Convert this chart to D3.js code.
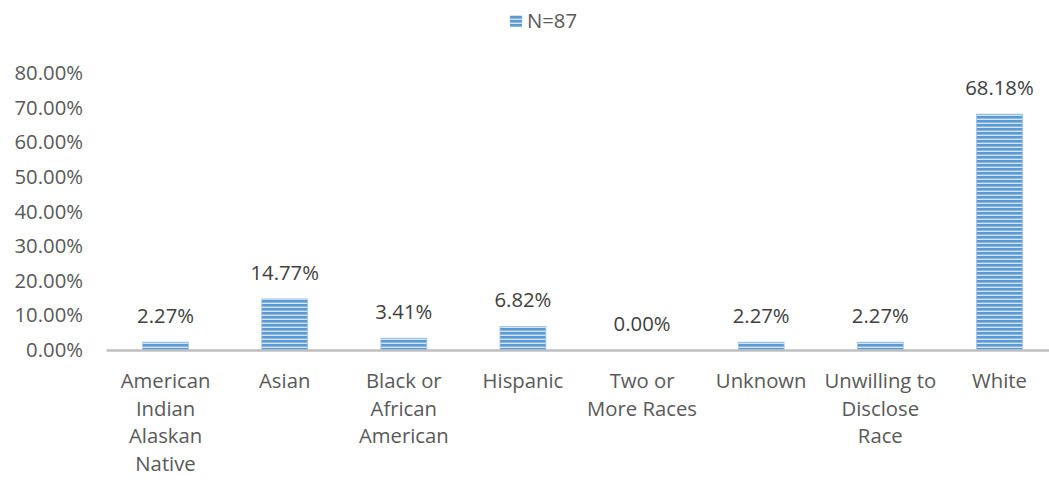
<!DOCTYPE html>
<html><head><meta charset="utf-8">
<script src="https://cdn.jsdelivr.net/npm/d3@7"></script>
<style>body{margin:0;background:#fff;}svg{display:block;font-family:"Open Sans",sans-serif;}</style>
</head><body>
<svg id="c" width="1049" height="481"></svg>
<script>
const categories = [["American","Indian","Alaskan","Native"],["Asian"],["Black or","African","American"],["Hispanic"],["Two or","More Races"],["Unknown"],["Unwilling to","Disclose","Race"],["White"]];
const values = [2.27, 14.77, 3.41, 6.82, 0.00, 2.27, 2.27, 68.18];
const yTicks = [0,10,20,30,40,50,60,70,80];
const seriesName = "N=87";

const FS = 20.3;
const svg = d3.select("#c");
const defs = svg.append("defs");
const pat = defs.append("pattern").attr("id","stripe").attr("patternUnits","userSpaceOnUse").attr("width",8).attr("height",4);
pat.append("rect").attr("width",8).attr("height",4).attr("fill","#d4e4f4");
pat.append("rect").attr("width",8).attr("height",2.6).attr("fill","#5b9bd5");

const x = d3.scaleBand().domain(d3.range(categories.length)).range([106,1059]).paddingInner(0.615).paddingOuter(0.3075);
const y = d3.scaleLinear().domain([0,80]).range([350,73.2]);

// y axis labels
const ya = svg.append("g").attr("transform","translate(83,0)")
  .call(d3.axisLeft(y).tickValues(yTicks).tickSize(0).tickPadding(0).tickFormat(d=>d.toFixed(2)+"%"));
ya.select(".domain").remove();
ya.selectAll("text").attr("font-size",FS).attr("fill","#595959").attr("font-family","Open Sans");

// bars
svg.append("g").selectAll("rect").data(values).join("rect")
  .attr("x",(d,i)=>x(i)).attr("width",x.bandwidth())
  .attr("y",d=>y(d)).attr("height",d=>y(0)-y(d))
  .attr("fill","url(#stripe)").attr("stroke","#9dc3e6").attr("stroke-width",0.8);

// x axis line
const xa = svg.append("g").attr("transform","translate(0,350)")
  .call(d3.axisBottom(x).tickSize(0).tickFormat(""));
xa.select(".domain").attr("stroke","#bfbfbf").attr("stroke-width",2.5);

// category labels
const cl = svg.append("g").selectAll("text").data(categories).join("text")
  .attr("text-anchor","middle").attr("font-size",FS).attr("fill","#595959")
  .attr("x",(d,i)=>x(i)+x.bandwidth()/2).attr("y",388);
cl.selectAll("tspan").data(d=>d).join("tspan")
  .attr("x",function(){return d3.select(this.parentNode).attr("x");})
  .attr("dy",(d,j)=>j===0?0:27.5).text(d=>d);

// data labels
svg.append("g").selectAll("text").data(values).join("text")
  .attr("text-anchor","middle").attr("font-size",FS).attr("fill","#404040")
  .attr("x",(d,i)=>x(i)+x.bandwidth()/2).attr("y",d=>y(d)-19)
  .text(d=>d.toFixed(2)+"%");

// legend
const lg = svg.append("g");
lg.append("rect").attr("x",510).attr("y",15).attr("width",12).attr("height",12).attr("fill","url(#stripe)");
lg.append("text").attr("x",527).attr("y",28).attr("font-size",FS).attr("fill","#595959").text(seriesName);
</script>
</body></html>
